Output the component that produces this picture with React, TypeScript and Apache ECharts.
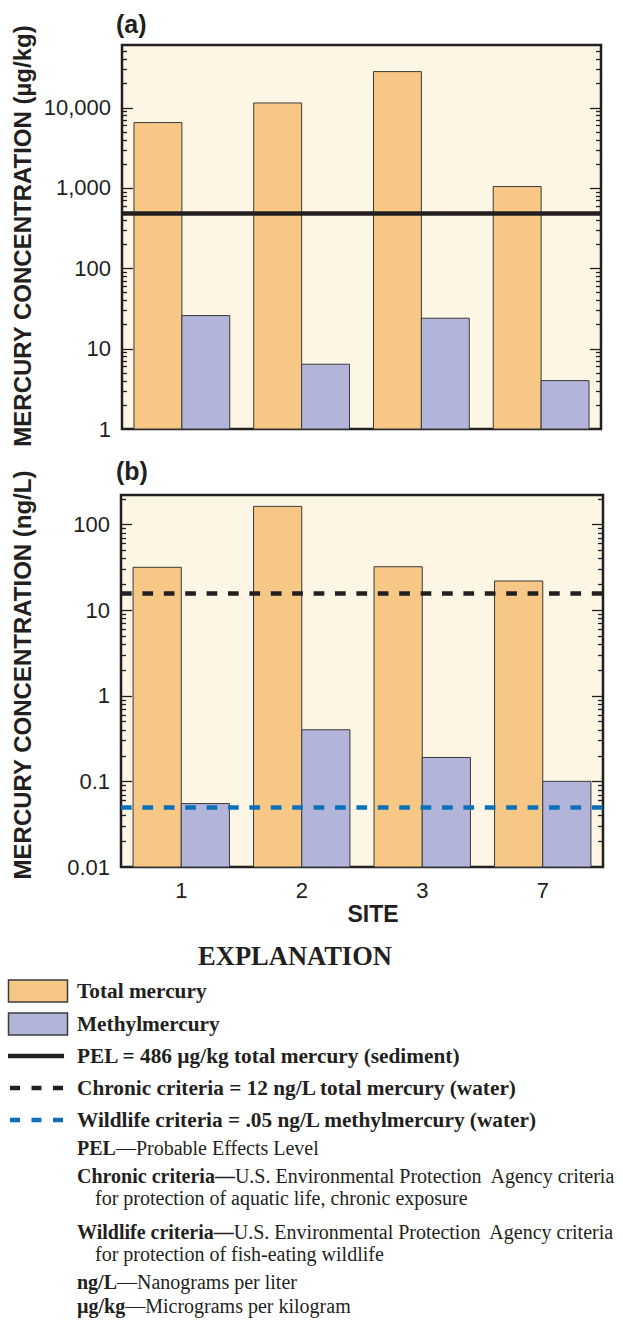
import React, { useEffect, useRef } from 'react';
import * as echarts from 'echarts';

// ---------- data ----------
const SITES = ['1', '2', '3', '7'];
const SEDIMENT_TOTAL = [6500, 11400, 28000, 1040];
const SEDIMENT_METHYL = [25.8, 6.4, 23.9, 4.0];
const WATER_TOTAL = [31.5, 162, 32, 21.8];
const WATER_METHYL = [0.055, 0.4, 0.19, 0.1];
const PEL = 486;
const CHRONIC = 15.5;
const WILDLIFE = 0.05;
const SEDIMENT_MIN = 1;
const SEDIMENT_MAX = 60000;
const WATER_MIN = 0.01;
const WATER_MAX = 220;
const SEDIMENT_DECADES = [1, 10, 100, 1000, 10000];
const WATER_DECADES = [0.01, 0.1, 1, 10, 100];
const TICK_MULTIPLES = [1, 2, 3, 4, 5, 6, 7, 8, 9];

const Y_TITLE_A = 'MERCURY CONCENTRATION (\u00b5g/kg)';
const Y_TITLE_B = 'MERCURY CONCENTRATION (ng/L)';
const X_TITLE = 'SITE';
const LEGEND_SWATCHES = ['Total mercury', 'Methylmercury'];
const LEGEND_LINES = [
  'PEL = 486 \u00b5g/kg total mercury (sediment)',
  'Chronic criteria = 12 ng/L total mercury (water)',
  'Wildlife criteria = .05 ng/L methylmercury (water)',
];
const NOTES: [string, string][] = [
  ['PEL', '\u2014Probable Effects Level'],
  ['Chronic criteria\u2014', 'U.S. Environmental Protection  Agency criteria'],
  ['', 'for protection of aquatic life, chronic exposure'],
  ['Wildlife criteria\u2014', 'U.S. Environmental Protection  Agency criteria'],
  ['', 'for protection of fish-eating wildlife'],
  ['ng/L', '\u2014Nanograms per liter'],
  ['\u00b5g/kg', '\u2014Micrograms per kilogram'],
];

// ---------- styles ----------
const INK = '#231f20';
const ORANGE = '#F6C785';
const PURPLE = '#B2B4D9';
const BLUE = '#0A71B9';
const CREAM = '#FEF6E5';
const SANS = '"Liberation Sans", Arial, Helvetica, sans-serif';
const SERIF = '"Liberation Serif", "Times New Roman", serif';

function tickValues(decades: number[], min: number, max: number) {
  const out: number[] = [];
  decades.forEach((d) =>
    TICK_MULTIPLES.forEach((m) => {
      const v = parseFloat((d * m).toPrecision(6));
      if (v > min && v < max) out.push(v);
    })
  );
  return out;
}

function labelFormatter(v: number) {
  const l = Math.log10(v);
  if (Math.abs(l - Math.round(l)) > 1e-6) return '';
  const p = Math.round(l);
  const val = Math.pow(10, p);
  return p >= 0 ? val.toLocaleString('en-US') : val.toFixed(-p);
}

function barSeries(idx: number, values: number[], side: number, color: string, yMin: number) {
  return {
    type: 'custom',
    xAxisIndex: idx,
    yAxisIndex: idx,
    silent: true,
    data: values.map((v, i) => [i, v]),
    encode: { x: 0, y: 1 },
    renderItem: (params: any, api: any) => {
      const cat = api.value(0);
      const v = api.value(1);
      const top = api.coord([cat, v]);
      const base = api.coord([cat, yMin]);
      const band = api.coord([1, v])[0] - api.coord([0, v])[0];
      const w = band * 0.4;
      const x0 = side < 0 ? top[0] - w : top[0];
      return {
        type: 'rect',
        shape: { x: x0, y: top[1], width: w, height: base[1] - top[1] },
        style: { fill: color, stroke: '#3b3b3b', lineWidth: 1 },
      };
    },
  };
}

function tickSeries(idx: number, values: number[]) {
  return {
    type: 'custom',
    xAxisIndex: idx,
    yAxisIndex: idx,
    silent: true,
    z: 4,
    data: values.map((v) => [0, v]),
    renderItem: (params: any, api: any) => {
      const v = api.value(1);
      const y = Math.round(api.coord([0, v])[1]) + 0.5;
      const cs = params.coordSys;
      const l = Math.log10(v);
      const major = Math.abs(l - Math.round(l)) < 1e-6;
      const len = major ? 11 : 5;
      const st = { stroke: INK, lineWidth: 1.3 };
      return {
        type: 'group',
        children: [
          { type: 'line', shape: { x1: cs.x, y1: y, x2: cs.x + len, y2: y }, style: st },
          { type: 'line', shape: { x1: cs.x + cs.width, y1: y, x2: cs.x + cs.width - len, y2: y }, style: st },
        ],
      };
    },
  };
}

function refLine(idx: number, value: number, color: string, dashed: boolean) {
  return {
    type: 'line',
    xAxisIndex: idx,
    yAxisIndex: idx,
    data: [],
    silent: true,
    markLine: {
      silent: true,
      symbol: ['none', 'none'],
      label: { show: false },
      emphasis: { disabled: true },
      lineStyle: { color, width: 4.5, type: dashed ? [10.7, 10.7] : 'solid', opacity: 1 },
      data: [{ yAxis: value }],
    },
  };
}

function yAxis(idx: number, min: number, max: number) {
  return {
    type: 'log',
    gridIndex: idx,
    logBase: 10,
    min,
    max,
    axisLine: { show: false },
    axisTick: { show: false },
    splitLine: { show: false },
    axisLabel: {
      formatter: labelFormatter,
      fontSize: 22,
      fontFamily: SANS,
      color: INK,
      margin: 11,
      showMinLabel: true,
      showMaxLabel: false,
    },
  };
}

export default function App() {
  const ref = useRef<HTMLDivElement>(null);
  useEffect(() => {
    document.body.style.margin = '0';
    const chart = echarts.init(ref.current!, undefined, { renderer: 'svg' });

    const graphics: any[] = [];
    const sansText = (text: string, x: number, y: number, size: number, rotation = 0, align = 'center') => ({
      type: 'text',
      x,
      y,
      rotation,
      silent: true,
      style: { text, fontSize: size, fontWeight: 'bold', fontFamily: SANS, fill: INK, align, verticalAlign: 'middle' },
    });
    graphics.push(sansText('(a)', 116, 24, 25, 0, 'left'));
    graphics.push(sansText('(b)', 116, 471, 25, 0, 'left'));
    graphics.push(sansText(Y_TITLE_A, 22, 236, 24, Math.PI / 2));
    graphics.push(sansText(Y_TITLE_B, 22, 675, 24, Math.PI / 2));
    graphics.push(sansText(X_TITLE, 373, 914, 23));

    graphics.push({
      type: 'text', x: 295, y: 956, silent: true,
      style: { text: 'EXPLANATION', fontSize: 26.5, fontWeight: 'bold', fontFamily: SERIF, fill: INK, align: 'center', verticalAlign: 'middle' },
    });
    const swatchColors = [ORANGE, PURPLE];
    const swatchY = [991, 1024];
    LEGEND_SWATCHES.forEach((t, i) => {
      graphics.push({
        type: 'rect', silent: true,
        shape: { x: 8.5, y: swatchY[i] - 11, width: 59, height: 22 },
        style: { fill: swatchColors[i], stroke: '#3b3b3b', lineWidth: 1.5 },
      });
      graphics.push({
        type: 'text', x: 77, y: swatchY[i], silent: true,
        style: { text: t, fontSize: 21.3, fontWeight: 'bold', fontFamily: SERIF, fill: INK, align: 'left', verticalAlign: 'middle' },
      });
    });
    const lineY = [1056, 1088, 1120];
    const lineColors = [INK, INK, BLUE];
    LEGEND_LINES.forEach((t, i) => {
      graphics.push({
        type: 'line', silent: true,
        shape: { x1: i === 0 ? 8 : 10, y1: lineY[i], x2: 64, y2: lineY[i] },
        style: { stroke: lineColors[i], lineWidth: 4.5, lineDash: i === 0 ? null : [10, 11.5] },
      });
      graphics.push({
        type: 'text', x: 77, y: lineY[i], silent: true,
        style: { text: t, fontSize: 21.3, fontWeight: 'bold', fontFamily: SERIF, fill: INK, align: 'left', verticalAlign: 'middle' },
      });
    });
    const noteY = [1148, 1176, 1198, 1232, 1254, 1282, 1306];
    NOTES.forEach(([b, r], i) => {
      const text = (b ? `{b|${b}}` : '') + `{r|${r}}`;
      graphics.push({
        type: 'text', x: b ? 77 : 95, y: noteY[i], silent: true,
        style: {
          text,
          fontSize: 20,
          fontFamily: SERIF,
          fill: INK,
          align: 'left',
          verticalAlign: 'middle',
          rich: {
            b: { fontSize: 20, fontFamily: SERIF, fontWeight: 'bold', fill: INK },
            r: { fontSize: 20, fontFamily: SERIF, fontWeight: 'normal', fill: INK },
          },
        },
      });
    });

    const gridStyle = { show: true, backgroundColor: CREAM, borderColor: INK, borderWidth: 2.5, containLabel: false };

    chart.setOption({
      animation: false,
      grid: [
        { ...gridStyle, left: 122, top: 45, width: 479, height: 384 },
        { ...gridStyle, left: 121, top: 495, width: 482, height: 372 },
      ],
      xAxis: [
        { type: 'category', gridIndex: 0, data: SITES, axisLine: { show: false }, axisTick: { show: false }, axisLabel: { show: false } },
        {
          type: 'category', gridIndex: 1, data: SITES, axisLine: { show: false }, axisTick: { show: false },
          axisLabel: { fontSize: 22, fontFamily: SANS, color: INK, margin: 12 },
        },
      ],
      yAxis: [yAxis(0, SEDIMENT_MIN, SEDIMENT_MAX), yAxis(1, WATER_MIN, WATER_MAX)],
      series: [
        barSeries(0, SEDIMENT_TOTAL, -1, ORANGE, SEDIMENT_MIN),
        barSeries(0, SEDIMENT_METHYL, 1, PURPLE, SEDIMENT_MIN),
        barSeries(1, WATER_TOTAL, -1, ORANGE, WATER_MIN),
        barSeries(1, WATER_METHYL, 1, PURPLE, WATER_MIN),
        tickSeries(0, tickValues(SEDIMENT_DECADES, SEDIMENT_MIN, SEDIMENT_MAX)),
        tickSeries(1, tickValues(WATER_DECADES, WATER_MIN, WATER_MAX)),
        refLine(0, PEL, INK, false),
        refLine(1, CHRONIC, INK, true),
        refLine(1, WILDLIFE, BLUE, true),
      ],
      graphic: graphics,
    });
    return () => chart.dispose();
  }, []);
  return <div ref={ref} style={{ width: 623, height: 1320 }} />;
}
